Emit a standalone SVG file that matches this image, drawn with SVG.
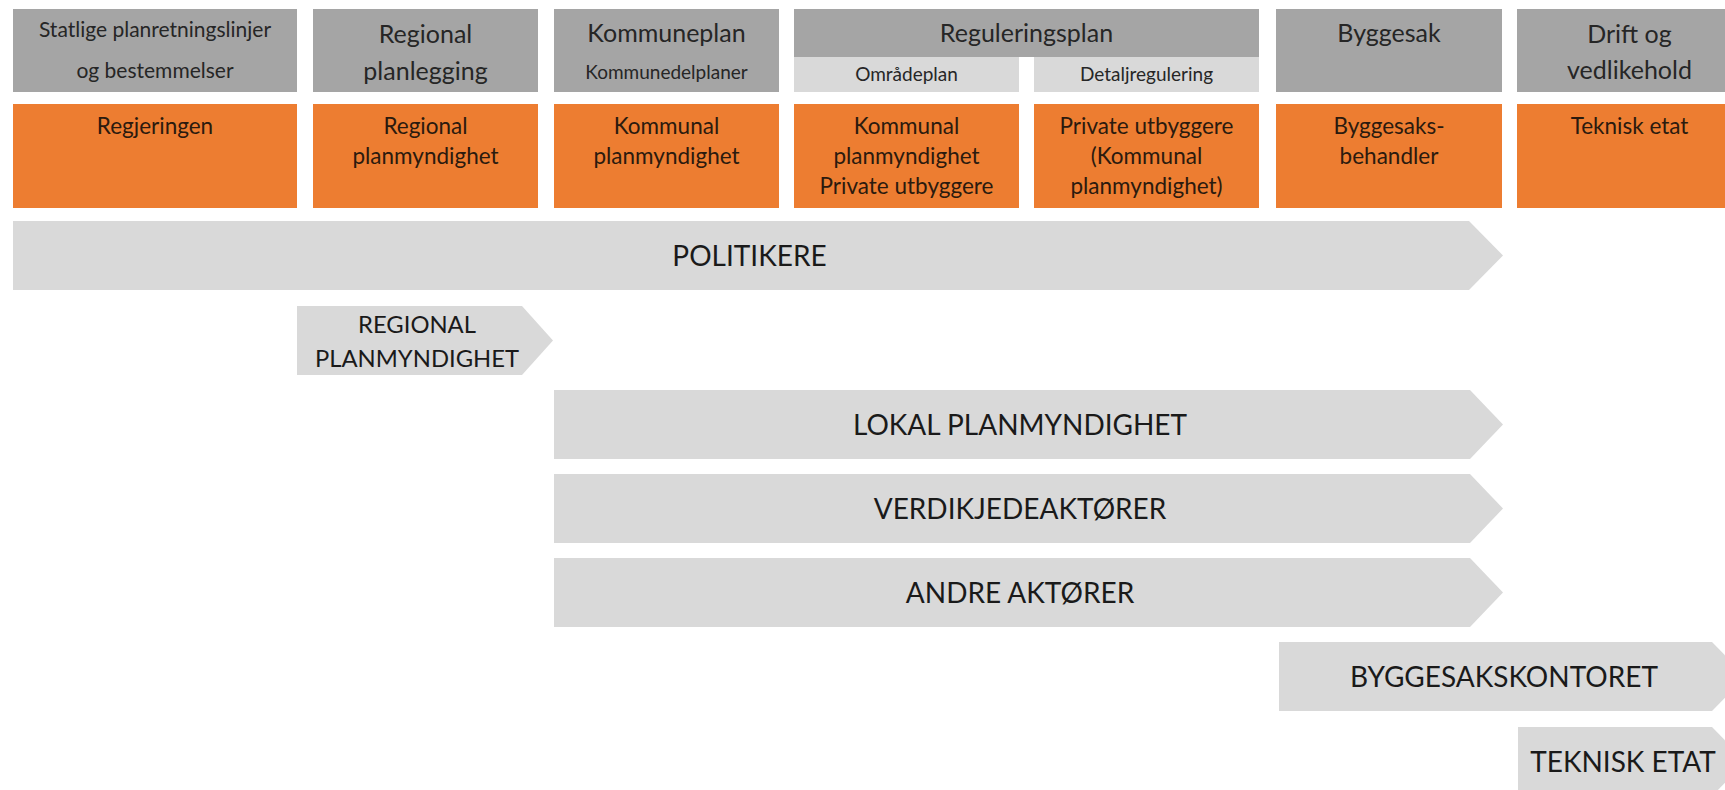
<svg xmlns="http://www.w3.org/2000/svg" width="1725" height="790" viewBox="0 0 1725 790">
<style>
  .hdr { fill: #a5a5a5; }
  .sub { fill: #d9d9d9; }
  .org { fill: #ed7d31; }
  .bar { fill: #d9d9d9; }
  text { font-family: Lato, "Open Sans", "Liberation Sans", sans-serif; text-anchor: middle; }
  .th { font-size: 25px; fill: #262626; }
  .ts { font-size: 19px; fill: #262626; }
  .tst { font-size: 21px; fill: #262626; }
  .to { font-size: 22.5px; fill: #2b1a0e; }
  .tb { font-size: 28px; fill: #1a1a1a; }
  .tr { font-size: 23.8px; fill: #1a1a1a; }
</style>
<rect width="1725" height="790" fill="#ffffff"/>

<g id="col-statlige">
  <rect class="hdr" x="13" y="9" width="284" height="83"/>
  <text class="tst" x="155" y="37">Statlige planretningslinjer</text>
  <text class="tst" x="155" y="78">og bestemmelser</text>
  <rect class="org" x="13" y="104" width="284" height="104"/>
  <text class="to" x="155" y="134">Regjeringen</text>
</g>

<g id="col-regional">
  <rect class="hdr" x="313" y="9" width="225" height="83"/>
  <text class="th" x="425.5" y="43">Regional</text>
  <text class="th" x="425.5" y="80">planlegging</text>
  <rect class="org" x="313" y="104" width="225" height="104"/>
  <text class="to" x="425.5" y="134">Regional</text>
  <text class="to" x="425.5" y="164">planmyndighet</text>
</g>

<g id="col-kommuneplan">
  <rect class="hdr" x="554" y="9" width="225" height="83"/>
  <text class="th" x="666.5" y="42">Kommuneplan</text>
  <text class="ts" x="666.5" y="79">Kommunedelplaner</text>
  <rect class="org" x="554" y="104" width="225" height="104"/>
  <text class="to" x="666.5" y="134">Kommunal</text>
  <text class="to" x="666.5" y="164">planmyndighet</text>
</g>

<g id="col-reguleringsplan">
  <rect class="hdr" x="794" y="9" width="465" height="48"/>
  <text class="th" x="1026.5" y="42">Reguleringsplan</text>
</g>

<g id="col-omradeplan">
  <rect class="sub" x="794" y="57" width="225" height="35"/>
  <text class="ts" x="906.5" y="81">Områdeplan</text>
  <rect class="org" x="794" y="104" width="225" height="104"/>
  <text class="to" x="906.5" y="134">Kommunal</text>
  <text class="to" x="906.5" y="164">planmyndighet</text>
  <text class="to" x="906.5" y="194">Private utbyggere</text>
</g>

<g id="col-detaljregulering">
  <rect class="sub" x="1034" y="57" width="225" height="35"/>
  <text class="ts" x="1146.5" y="81">Detaljregulering</text>
  <rect class="org" x="1034" y="104" width="225" height="104"/>
  <text class="to" x="1146.5" y="134">Private utbyggere</text>
  <text class="to" x="1146.5" y="164">(Kommunal</text>
  <text class="to" x="1146.5" y="194">planmyndighet)</text>
</g>

<g id="col-byggesak">
  <rect class="hdr" x="1276" y="9" width="226" height="83"/>
  <text class="th" x="1389" y="42">Byggesak</text>
  <rect class="org" x="1276" y="104" width="226" height="104"/>
  <text class="to" x="1389" y="134">Byggesaks-</text>
  <text class="to" x="1389" y="164">behandler</text>
</g>

<g id="col-drift">
  <rect class="hdr" x="1517" y="9" width="225" height="83"/>
  <text class="th" x="1629.5" y="43">Drift og</text>
  <text class="th" x="1629.5" y="79">vedlikehold</text>
  <rect class="org" x="1517" y="104" width="225" height="104"/>
  <text class="to" x="1629.5" y="134">Teknisk etat</text>
</g>

<g id="bar-politikere">
  <polygon class="bar" points="13,221 1469,221 1503,255.5 1469,290 13,290"/>
  <text class="tb" x="749.5" y="265.5">POLITIKERE</text>
</g>

<g id="bar-regional-planmyndighet">
  <polygon class="bar" points="297,306 522,306 553,340.5 522,375 297,375"/>
  <text class="tr" x="417" y="333">REGIONAL</text>
  <text class="tr" x="417" y="367">PLANMYNDIGHET</text>
</g>

<g id="bar-lokal-planmyndighet">
  <polygon class="bar" points="554,390 1470,390 1503,424.5 1470,459 554,459"/>
  <text class="tb" x="1020" y="434.5">LOKAL PLANMYNDIGHET</text>
</g>

<g id="bar-verdikjedeaktorer">
  <polygon class="bar" points="554,474 1470,474 1503,508.5 1470,543 554,543"/>
  <text class="tb" x="1020" y="518.5">VERDIKJEDEAKTØRER</text>
</g>

<g id="bar-andre-aktorer">
  <polygon class="bar" points="554,558 1470,558 1503,592.5 1470,627 554,627"/>
  <text class="tb" x="1020" y="602.5">ANDRE AKTØRER</text>
</g>

<g id="bar-byggesakskontoret">
  <polygon class="bar" points="1279,642 1712,642 1746,676.5 1712,711 1279,711"/>
  <text class="tb" x="1504" y="686.5">BYGGESAKSKONTORET</text>
</g>

<g id="bar-teknisk-etat">
  <polygon class="bar" points="1518,727 1712,727 1746,761.5 1712,796 1518,796"/>
  <text class="tb" x="1623" y="771.5">TEKNISK ETAT</text>
</g>
</svg>
